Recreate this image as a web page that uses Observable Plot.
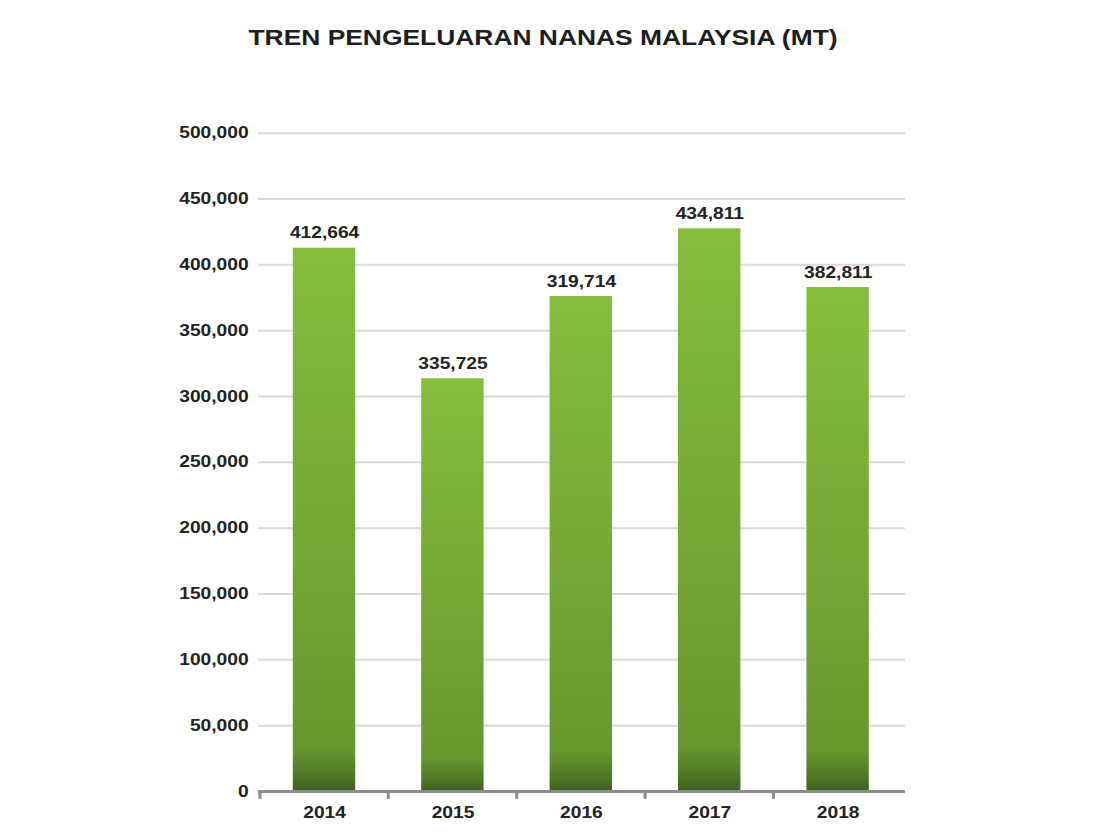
<!DOCTYPE html>
<html><head><meta charset="utf-8">
<script src="https://cdn.jsdelivr.net/npm/d3@7"></script>
<script src="https://cdn.jsdelivr.net/npm/@observablehq/plot@0.6"></script>
<style>
body{margin:0;background:#fff;font-family:"Liberation Sans",Arial,sans-serif;}
#title{height:76px;width:1100px;position:relative;}
#title span{position:absolute;left:543px;top:38px;transform:translate(-50%,-50%) scaleX(1.2);font-weight:bold;font-size:22px;color:#1e1e1e;white-space:nowrap;}
</style></head><body>
<div id="title"><span>TREN PENGELUARAN NANAS MALAYSIA (MT)</span></div>
<div id="chart"></div>
<script>
const years = ["2014", "2015", "2016", "2017", "2018"];
const barValues = [412664, 313500, 376000, 427400, 382811];
const labelTexts = ["412,664", "335,725", "319,714", "434,811", "382,811"];
const yTicks = [0, 50000, 100000, 150000, 200000, 250000, 300000, 350000, 400000, 450000, 500000];

const data = years.map((y, i) => ({year: y, value: barValues[i], label: labelTexts[i]}));

const S = 1.2;            // horizontal stretch of the original picture
const W = 1100 / S, H = 763;
const ml = 258 / S, mr = 195 / S;
const step = (W - ml - mr) / years.length;

const plot = Plot.plot({
  width: W, height: H,
  marginLeft: ml, marginRight: mr, marginTop: 56.7, marginBottom: 48,
  style: {fontFamily: "'Liberation Sans', Arial, sans-serif", fontSize: "16px", fontWeight: "bold", color: "#222", background: "white", overflow: "visible"},
  x: {domain: years, paddingInner: 0.51, paddingOuter: 0.255, label: null, tickSize: 0, tickPadding: 15},
  y: {domain: [0, 500000], ticks: yTicks, tickFormat: d3.format(","), label: null, tickSize: 0, tickPadding: 10 / S},
  marks: [
    Plot.ruleY(yTicks.filter(d => d > 0), {stroke: "#d9d9d9", strokeWidth: 2}),
    Plot.barY(data, {x: "year", y: "value", fill: "url(#barGrad)"}),
    Plot.ruleY([0], {stroke: "#8c8c8c", strokeWidth: 3}),
    Plot.ruleX(data, {x: "year", dx: -step / 2, y1: 0, y2: -6000, stroke: "#8c8c8c", strokeWidth: 2.5}),
    Plot.text(data, {x: "year", y: "value", text: "label", dy: -15, fill: "#222", fontWeight: "bold"})
  ]
});

plot.setAttribute("width", 1100);
plot.setAttribute("height", H);
plot.setAttribute("preserveAspectRatio", "none");
plot.style.maxWidth = "none";
plot.style.width = "1100px";
plot.style.height = H + "px";
plot.style.display = "block";

d3.select(plot).insert("defs", ":first-child").html(
  '<linearGradient id="barGrad" x1="0" y1="0" x2="0" y2="1">' +
  '<stop offset="0" stop-color="#85bd3e"/>' +
  '<stop offset="0.5" stop-color="#76a936"/>' +
  '<stop offset="0.92" stop-color="#67972f"/>' +
  '<stop offset="0.965" stop-color="#527c27"/>' +
  '<stop offset="1" stop-color="#3d611f"/>' +
  '</linearGradient>');

document.getElementById("chart").appendChild(plot);
</script>
</body></html>
